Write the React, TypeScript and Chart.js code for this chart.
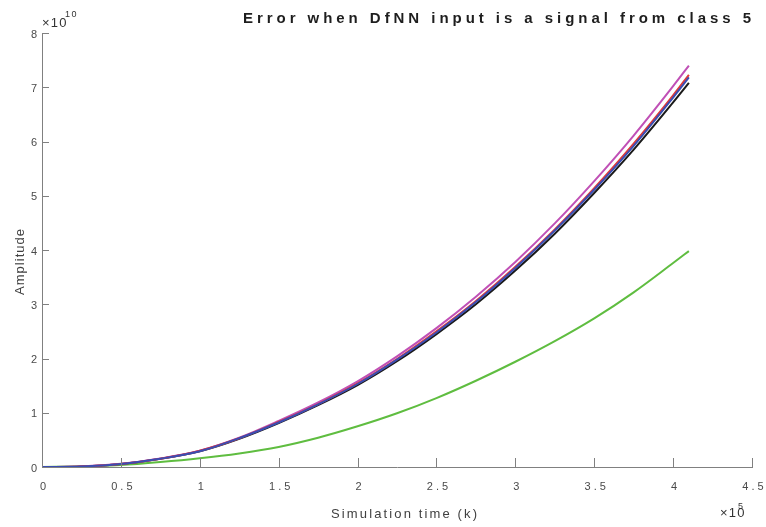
import React, { useEffect, useRef } from "react";
import { Chart, registerables } from "chart.js";

Chart.register(...registerables);

// Simulation time, in units of 1e5
const TIME = [0, 0.25, 0.5, 0.75, 1.0, 1.25, 1.5, 1.75, 2.0, 2.25, 2.5, 2.75, 3.0, 3.25, 3.5, 3.75, 4.0, 4.1];
// Amplitudes, in units of 1e10
const SERIES_BLUE = [0, 0.01, 0.056, 0.152, 0.29, 0.53, 0.82, 1.155, 1.53, 1.98, 2.48, 3.04, 3.67, 4.36, 5.11, 5.92, 6.81, 7.18];
const SERIES_RED = [0, 0.01, 0.056, 0.153, 0.3, 0.53, 0.83, 1.16, 1.54, 1.99, 2.5, 3.06, 3.69, 4.38, 5.14, 5.96, 6.85, 7.23];
const SERIES_MAGENTA = [0, 0.01, 0.058, 0.157, 0.3, 0.54, 0.85, 1.19, 1.58, 2.04, 2.56, 3.14, 3.78, 4.49, 5.27, 6.11, 7.02, 7.4];
const SERIES_BLACK = [0, 0.01, 0.055, 0.15, 0.29, 0.52, 0.81, 1.14, 1.51, 1.95, 2.45, 3.0, 3.62, 4.3, 5.05, 5.85, 6.72, 7.08];
const SERIES_GREEN = [0, 0.01, 0.035, 0.09, 0.16, 0.25, 0.37, 0.54, 0.75, 0.99, 1.27, 1.59, 1.94, 2.32, 2.74, 3.22, 3.76, 3.98];

const X_TICKS = [0, 0.5, 1, 1.5, 2, 2.5, 3, 3.5, 4, 4.5];
const Y_TICKS = [0, 1, 2, 3, 4, 5, 6, 7, 8];

const TITLE = "Error when DfNN input is a signal from class 5";
const X_TITLE = "Simulation time (k)";
const Y_TITLE = "Amplitude";

const FONT = "'Liberation Sans', Arial, Helvetica, sans-serif";

function spacedWidth(ctx: CanvasRenderingContext2D, text: string, spacing: number) {
  let w = 0;
  for (const ch of text) w += ctx.measureText(ch).width;
  return w + spacing * (Array.from(text).length - 1);
}

function drawSpaced(ctx: CanvasRenderingContext2D, text: string, x: number, y: number, spacing: number) {
  let cx = x;
  for (const ch of text) {
    ctx.fillText(ch, cx, y);
    cx += ctx.measureText(ch).width + spacing;
  }
}

function fitSpacing(ctx: CanvasRenderingContext2D, text: string, target: number) {
  const n = Array.from(text).length;
  const w0 = spacedWidth(ctx, text, 0);
  return n > 1 ? (target - w0) / (n - 1) : 0;
}

const decorPlugin = {
  id: "decor",
  afterDraw(chart: any) {
    const ctx: CanvasRenderingContext2D = chart.ctx;
    const xs = chart.scales.x;
    const ys = chart.scales.y;
    const area = chart.chartArea;
    ctx.save();
    ctx.textAlign = "left";
    ctx.textBaseline = "alphabetic";

    // inward tick marks
    ctx.strokeStyle = "#808080";
    ctx.lineWidth = 1;
    ctx.beginPath();
    for (const t of xs.ticks) {
      const px = Math.round(xs.getPixelForValue(t.value)) + 0.5;
      ctx.moveTo(px, area.bottom);
      ctx.lineTo(px, area.bottom - 9);
    }
    for (const t of ys.ticks) {
      const py = Math.round(ys.getPixelForValue(t.value)) + 0.5;
      ctx.moveTo(area.left, py);
      ctx.lineTo(area.left + 7, py);
    }
    ctx.stroke();

    // tick labels
    ctx.fillStyle = "#4a4a4a";
    ctx.font = `11px ${FONT}`;
    for (const t of xs.ticks) {
      const label = String(Math.round(t.value * 10) / 10);
      const sp = 3;
      const w = spacedWidth(ctx, label, sp);
      const px = xs.getPixelForValue(t.value);
      drawSpaced(ctx, label, px - w / 2 + 1, area.bottom + 23, sp);
    }
    for (const t of ys.ticks) {
      const label = String(t.value);
      const w = spacedWidth(ctx, label, 0);
      const py = ys.getPixelForValue(t.value);
      drawSpaced(ctx, label, area.left - 5 - w, py + 4.5, 0);
    }

    // exponent labels
    ctx.fillStyle = "#333333";
    ctx.font = `13px ${FONT}`;
    drawSpaced(ctx, "×10", 42, 27, 1.2);
    ctx.font = `9px ${FONT}`;
    drawSpaced(ctx, "10", 65, 17, 1.5);
    ctx.font = `13px ${FONT}`;
    drawSpaced(ctx, "×10", 720, 517, 1.2);
    ctx.font = `9px ${FONT}`;
    drawSpaced(ctx, "5", 738, 509, 0);

    // title
    ctx.fillStyle = "#1e1e1e";
    ctx.font = `bold 15px ${FONT}`;
    const tsp = fitSpacing(ctx, TITLE, 508);
    drawSpaced(ctx, TITLE, 243, 23, tsp);

    // x-axis title
    ctx.fillStyle = "#404040";
    ctx.font = `13px ${FONT}`;
    const xsp = fitSpacing(ctx, X_TITLE, 146);
    drawSpaced(ctx, X_TITLE, 331, 518, xsp);

    // y-axis title
    ctx.save();
    ctx.translate(24, 262);
    ctx.rotate(-Math.PI / 2);
    ctx.font = `13px ${FONT}`;
    const ysp = fitSpacing(ctx, Y_TITLE, 66);
    drawSpaced(ctx, Y_TITLE, -33, 0, ysp);
    ctx.restore();

    ctx.restore();
  },
};

function makeSeries(values: number[]) {
  return TIME.map((t, i) => ({ x: t, y: values[i] }));
}

export default function App() {
  const ref = useRef<HTMLCanvasElement | null>(null);

  useEffect(() => {
    if (!ref.current) return;
    const common = {
      borderWidth: 2,
      pointRadius: 0,
      fill: false,
      cubicInterpolationMode: "monotone" as const,
    };
    const chart = new Chart(ref.current, {
      type: "line",
      data: {
        datasets: [
          { label: "blue", data: makeSeries(SERIES_BLUE), borderColor: "#3a4db2", ...common },
          { label: "red", data: makeSeries(SERIES_RED), borderColor: "#e0393a", ...common },
          { label: "magenta", data: makeSeries(SERIES_MAGENTA), borderColor: "#c050b6", ...common },
          { label: "black", data: makeSeries(SERIES_BLACK), borderColor: "#1a1a1a", ...common },
          { label: "green", data: makeSeries(SERIES_GREEN), borderColor: "#5fbd40", ...common },
        ],
      },
      options: {
        animation: false,
        responsive: false,
        devicePixelRatio: 1,
        layout: { padding: { top: 33, right: 14, left: 0, bottom: 0 } },
        plugins: { legend: { display: false }, tooltip: { enabled: false }, title: { display: false } },
        scales: {
          x: {
            type: "linear",
            min: 0,
            max: 4.5,
            afterBuildTicks: (scale: any) => {
              scale.ticks = X_TICKS.map((v) => ({ value: v }));
            },
            afterFit: (scale: any) => {
              scale.height = 60;
            },
            ticks: { display: false },
            grid: { display: false, drawTicks: false },
            border: { display: true, color: "#808080", width: 1 },
          },
          y: {
            type: "linear",
            min: 0,
            max: 8,
            afterBuildTicks: (scale: any) => {
              scale.ticks = Y_TICKS.map((v) => ({ value: v }));
            },
            afterFit: (scale: any) => {
              scale.width = 42;
            },
            ticks: { display: false },
            grid: { display: false, drawTicks: false },
            border: { display: true, color: "#808080", width: 1 },
          },
        },
      },
      plugins: [decorPlugin],
    });
    return () => chart.destroy();
  }, []);

  return (
    <div style={{ position: "fixed", left: 0, top: 0, width: 766, height: 527, background: "#fff" }}>
      <canvas ref={ref} width={766} height={527} style={{ width: 766, height: 527 }} />
    </div>
  );
}
